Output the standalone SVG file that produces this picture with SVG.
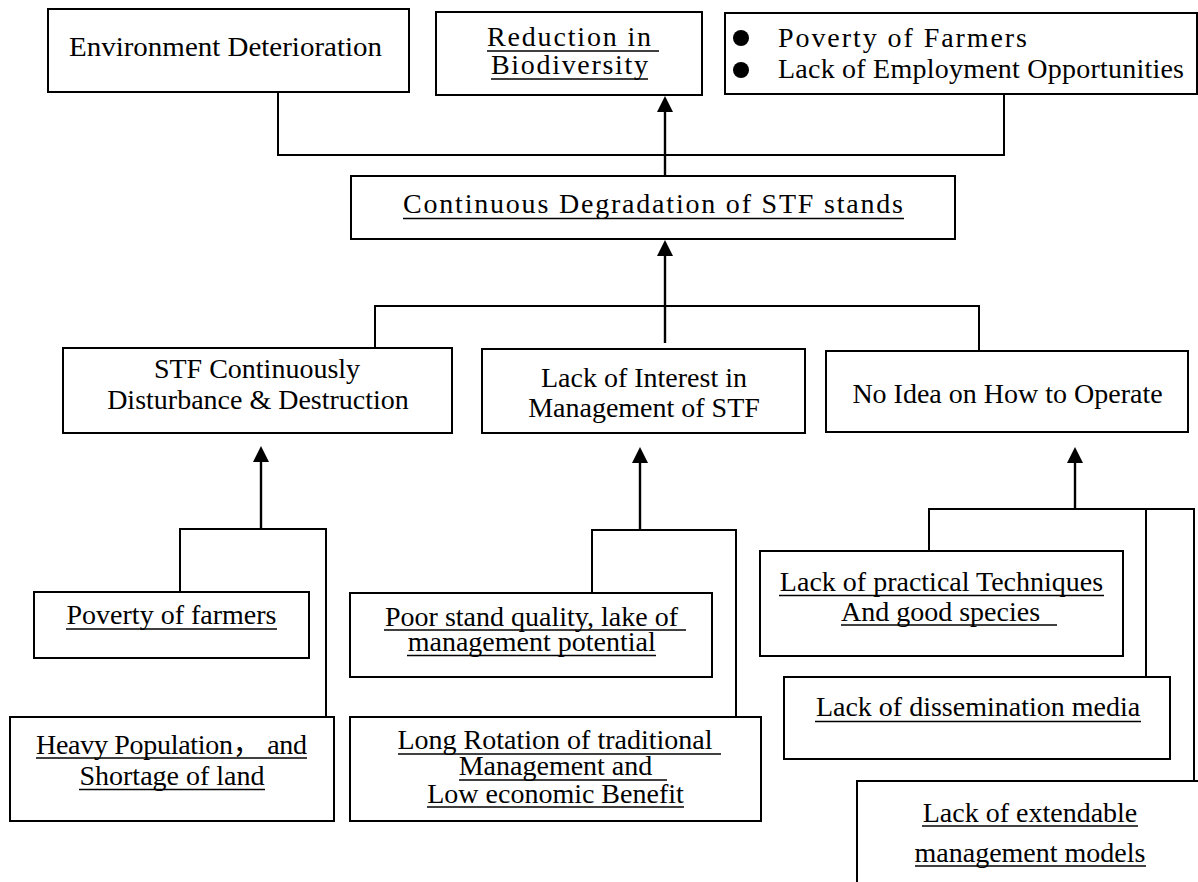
<svg xmlns="http://www.w3.org/2000/svg" width="1198" height="882" viewBox="0 0 1198 882">
  <defs>
    <marker id="arrowhead" viewBox="0 0 16 16" refX="0" refY="8" markerWidth="16" markerHeight="16" markerUnits="userSpaceOnUse" orient="auto">
      <path d="M0,0 L16,8 L0,16 z" fill="#000"/>
    </marker>
    <style>
      .box { fill: #fff; stroke: #000; stroke-width: 2; }
      .link { fill: none; stroke: #000; stroke-width: 2; }
      .arrow { fill: none; stroke: #000; stroke-width: 2.4; marker-end: url(#arrowhead); }
      text { font-family: "Liberation Serif", "Times New Roman", "Noto Sans CJK SC", serif; fill: #000; font-size: 28px; }
      .c { text-anchor: middle; }
      .ul { stroke: #000; stroke-width: 1.5; }
    </style>
  </defs>

  <rect width="1198" height="882" fill="#fff"/>

  <!-- top row: consequences -->
  <g id="env-deterioration">
    <rect class="box" x="48" y="9" width="361" height="83"/>
    <text class="c" x="225.5" y="56" font-size="29" textLength="313" lengthAdjust="spacingAndGlyphs">Environment Deterioration</text>
  </g>

  <g id="biodiversity">
    <rect class="box" x="436" y="12" width="266" height="83"/>
    <text x="487" y="46" font-size="30" textLength="164" lengthAdjust="spacing">Reduction in</text>
    <line class="ul" x1="487" y1="51" x2="659" y2="51"/>
    <text x="491" y="74" font-size="30" textLength="157" lengthAdjust="spacing">Biodiversity</text>
    <line class="ul" x1="491" y1="79" x2="648" y2="79"/>
  </g>

  <g id="poverty-employment">
    <rect class="box" x="725" y="13" width="472" height="81"/>
    <circle cx="741" cy="38" r="8" fill="#000"/>
    <circle cx="741" cy="70" r="8" fill="#000"/>
    <text x="778" y="47" font-size="30" textLength="249" lengthAdjust="spacing">Poverty of Farmers</text>
    <text x="778" y="78" font-size="30" textLength="406" lengthAdjust="spacing">Lack of Employment Opportunities</text>
  </g>

  <!-- core problem -->
  <g id="degradation">
    <rect class="box" x="351" y="176" width="604" height="63"/>
    <text x="403" y="213" font-size="32" textLength="500" lengthAdjust="spacing">Continuous Degradation of STF stands</text>
    <line class="ul" x1="403" y1="218.5" x2="904" y2="218.5"/>
  </g>

  <!-- direct causes -->
  <g id="disturbance">
    <rect class="box" x="63" y="348" width="389" height="85"/>
    <text class="c" x="257" y="378">STF Continuously</text>
    <text class="c" x="258" y="409">Disturbance &amp; Destruction</text>
  </g>

  <g id="lack-interest">
    <rect class="box" x="482" y="349" width="323" height="84"/>
    <text class="c" x="644" y="387">Lack of Interest in</text>
    <text class="c" x="644" y="417">Management of STF</text>
  </g>

  <g id="no-idea">
    <rect class="box" x="826" y="351" width="362" height="81"/>
    <text class="c" x="1007.5" y="403">No Idea on How to Operate</text>
  </g>

  <!-- root causes, left branch -->
  <g id="poverty-farmers">
    <rect class="box" x="34" y="592" width="275" height="66"/>
    <text class="c" x="171.5" y="624">Poverty of farmers</text>
    <line class="ul" x1="66" y1="629" x2="277" y2="629"/>
  </g>

  <g id="population">
    <rect class="box" x="10" y="717" width="324" height="104"/>
    <text x="36" y="754" textLength="271" lengthAdjust="spacing">Heavy Population， and</text>
    <line class="ul" x1="36" y1="758" x2="307" y2="758"/>
    <text class="c" x="172" y="785">Shortage of land</text>
    <line class="ul" x1="79" y1="789.5" x2="265" y2="789.5"/>
  </g>

  <!-- root causes, middle branch -->
  <g id="stand-quality">
    <rect class="box" x="350" y="593" width="362" height="84"/>
    <text class="c" x="531.5" y="626">Poor stand quality, lake of</text>
    <line class="ul" x1="384" y1="630" x2="686" y2="630"/>
    <text class="c" x="531.7" y="651">management potential</text>
    <line class="ul" x1="407" y1="655.5" x2="656" y2="655.5"/>
  </g>

  <g id="long-rotation">
    <rect class="box" x="350" y="717" width="411" height="104"/>
    <text class="c" x="555" y="749">Long Rotation of traditional</text>
    <line class="ul" x1="398" y1="754" x2="721" y2="754"/>
    <text class="c" x="555.5" y="775">Management and</text>
    <line class="ul" x1="459" y1="780" x2="667" y2="780"/>
    <text class="c" x="555.5" y="803">Low economic Benefit</text>
    <line class="ul" x1="427" y1="807" x2="684" y2="807"/>
  </g>

  <!-- root causes, right branch -->
  <g id="techniques">
    <rect class="box" x="760" y="551" width="363" height="105"/>
    <text class="c" x="941.5" y="591">Lack of practical Techniques</text>
    <line class="ul" x1="779" y1="595.5" x2="1104" y2="595.5"/>
    <text x="841" y="621">And good species</text>
    <line class="ul" x1="841" y1="625" x2="1057" y2="625"/>
  </g>

  <g id="dissemination">
    <rect class="box" x="784" y="677" width="386" height="82"/>
    <text class="c" x="978" y="716">Lack of dissemination media</text>
    <line class="ul" x1="815" y1="721.5" x2="1141" y2="721.5"/>
  </g>

  <g id="extension-models">
    <rect class="box" x="857" y="781" width="400" height="200"/>
    <text class="c" x="1030" y="822">Lack of extendable</text>
    <line class="ul" x1="922" y1="826" x2="1138" y2="826"/>
    <text class="c" x="1030" y="862">management models</text>
    <line class="ul" x1="915" y1="866" x2="1146" y2="866"/>
  </g>

  <!-- connectors -->
  <g id="connectors">
    <polyline class="link" points="278,92 278,155 1004,155 1004,94"/>
    <polyline class="link" points="375,348 375,306 979,306 979,351"/>
    <polyline class="link" points="180,592 180,529 326,529 326,717"/>
    <polyline class="link" points="592,593 592,530 736,530 736,717"/>
    <polyline class="link" points="929,551 929,509 1194,509 1194,781"/>
    <line class="link" x1="1146" y1="509" x2="1146" y2="677"/>

    <line class="arrow" x1="665" y1="176" x2="665" y2="112"/>
    <line class="arrow" x1="665" y1="343" x2="665" y2="256"/>
    <line class="arrow" x1="261" y1="529" x2="261" y2="462"/>
    <line class="arrow" x1="640" y1="530" x2="640" y2="463"/>
    <line class="arrow" x1="1075" y1="509" x2="1075" y2="463"/>
  </g>
</svg>
